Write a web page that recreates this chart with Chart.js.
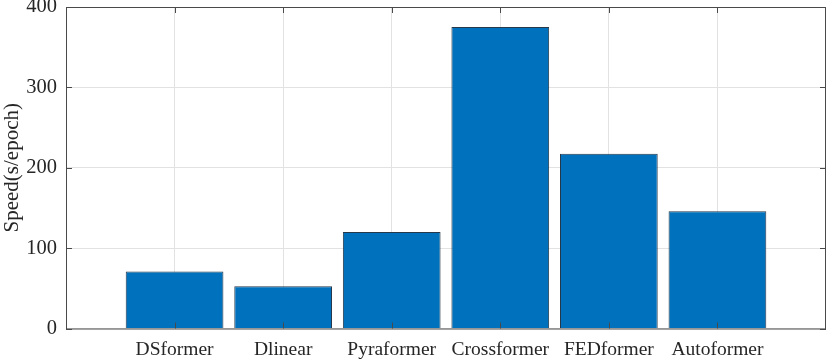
<!DOCTYPE html>
<html>
<head>
<meta charset="utf-8">
<script src="https://cdn.jsdelivr.net/npm/chart.js@4"></script>
<style>
  html, body { margin: 0; padding: 0; background: #ffffff; }
  #wrap { width: 830px; height: 360px; }
</style>
</head>
<body>
<div id="wrap"><canvas id="speed-chart" width="830" height="360"></canvas></div>
<script>
// Data
const models = ['DSformer', 'Dlinear', 'Pyraformer', 'Crossformer', 'FEDformer', 'Autoformer'];
const speeds = [71, 52.5, 120, 375, 217.5, 146];
const yTicks = [0, 100, 200, 300, 400];

const AXIS_COLOR = '#4a4a4a';
const GRID_COLOR = '#e2e2e2';
const SERIF = '"Liberation Serif", "Times New Roman", serif';

// Box around the plot plus MATLAB-style inward tick marks
const boxAxes = {
  id: 'boxAxes',
  afterDatasetsDraw(chart) {
    const { ctx, chartArea: a, scales } = chart;
    const len = 6;
    ctx.save();
    ctx.strokeStyle = AXIS_COLOR;
    ctx.lineWidth = 1;
    ctx.strokeRect(a.left + 0.5, a.top + 0.5, a.right - a.left - 1, a.bottom - a.top);
    ctx.beginPath();
    models.forEach((m, i) => {
      const x = Math.round(scales.x.getPixelForValue(i + 1)) + 0.5;
      ctx.moveTo(x, a.bottom); ctx.lineTo(x, a.bottom - len);
      ctx.moveTo(x, a.top); ctx.lineTo(x, a.top + len);
    });
    yTicks.forEach(v => {
      const y = Math.round(scales.y.getPixelForValue(v)) + 0.5;
      ctx.moveTo(a.left, y); ctx.lineTo(a.left + len, y);
      ctx.moveTo(a.right, y); ctx.lineTo(a.right - len, y);
    });
    ctx.stroke();
    ctx.restore();
  }
};

new Chart(document.getElementById('speed-chart'), {
  type: 'bar',
  data: {
    datasets: [{
      label: 'Speed',
      data: speeds.map((v, i) => ({ x: i + 1, y: v })),
      backgroundColor: '#0072bd',
      borderColor: '#26384a',
      borderWidth: 1,
      barPercentage: 0.9,
      categoryPercentage: 1.0
    }]
  },
  options: {
    responsive: false,
    animation: false,
    layout: { padding: { top: 7, right: 4, left: 0, bottom: 0 } },
    plugins: { legend: { display: false }, tooltip: { enabled: false } },
    scales: {
      x: {
        type: 'linear',
        min: 0,
        max: 7,
        offset: false,
        afterBuildTicks: (s) => { s.ticks = models.map((m, i) => ({ value: i + 1 })); },
        afterFit: (s) => { s.height = 31.5; s.paddingLeft = 0; s.paddingRight = 0; },
        grid: { color: GRID_COLOR, drawTicks: false, offset: false },
        border: { display: false },
        ticks: {
          color: '#262626',
          font: { family: SERIF, size: 19.5 },
          padding: 10,
          maxRotation: 0,
          autoSkip: false,
          callback: (v) => models[v - 1] || ''
        }
      },
      y: {
        min: 0,
        max: 400,
        afterBuildTicks: (s) => { s.ticks = yTicks.map(v => ({ value: v })); },
        afterFit: (s) => { s.width = 66; s.paddingTop = 0; s.paddingBottom = 0; },
        grid: { color: GRID_COLOR, drawTicks: false },
        border: { display: false },
        ticks: { color: '#262626', font: { family: SERIF, size: 20.5 }, padding: 9 },
        title: {
          display: true,
          text: 'Speed(s/epoch)',
          color: '#262626',
          font: { family: SERIF, size: 21 },
          padding: { top: 0, bottom: 0 }
        }
      }
    }
  },
  plugins: [boxAxes]
});
</script>
</body>
</html>
